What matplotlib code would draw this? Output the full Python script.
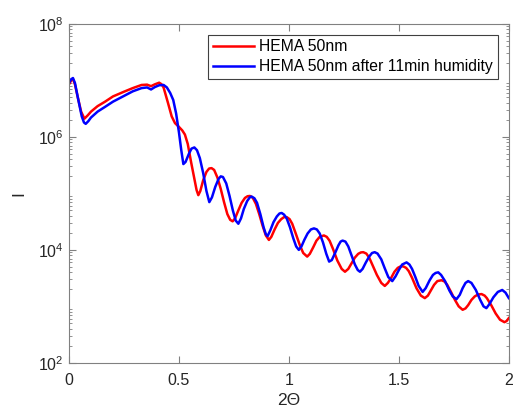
import matplotlib
matplotlib.use("Agg")
import matplotlib.pyplot as plt
from matplotlib.ticker import LogLocator, FixedLocator, NullFormatter

plt.rcParams['font.family'] = ['Liberation Sans', 'DejaVu Sans']
plt.rcParams['mathtext.fontset'] = 'custom'
plt.rcParams['mathtext.rm'] = 'Liberation Sans'
plt.rcParams['mathtext.it'] = 'Liberation Sans'

# values (2theta, intensity)
x_dry = [0.0, 0.01, 0.018, 0.027, 0.04, 0.055, 0.07, 0.085, 0.1, 0.13, 0.164, 0.2,
         0.25, 0.29, 0.33, 0.355, 0.373, 0.39, 0.41, 0.42, 0.43, 0.45, 0.467, 0.482,
         0.5, 0.515, 0.527, 0.54, 0.555, 0.57, 0.58, 0.588, 0.597, 0.61, 0.625, 0.637,
         0.648, 0.66, 0.675, 0.69, 0.705, 0.72, 0.733, 0.744, 0.755, 0.77, 0.785, 0.80,
         0.812, 0.823, 0.836, 0.85, 0.865, 0.88, 0.895, 0.909, 0.92, 0.935, 0.95, 0.965,
         0.978, 0.99, 1.003, 1.015, 1.03, 1.05, 1.065, 1.083, 1.095, 1.11, 1.125, 1.14,
         1.159, 1.172, 1.185, 1.20, 1.22, 1.24, 1.255, 1.27, 1.285, 1.30, 1.315, 1.327,
         1.338, 1.352, 1.365, 1.38, 1.40, 1.42, 1.436, 1.45, 1.465, 1.48, 1.495, 1.508,
         1.52, 1.533, 1.545, 1.56, 1.58, 1.60, 1.618, 1.632, 1.645, 1.66, 1.675, 1.694,
         1.708, 1.72, 1.737, 1.755, 1.772, 1.79, 1.803, 1.815, 1.83, 1.845, 1.86, 1.876,
         1.89, 1.90, 1.92, 1.94, 1.96, 1.98, 1.99, 2.0]
i_dry = [8.5e6, 1.0e7, 1.05e7, 8.5e6, 5e6, 2.8e6, 2.1e6, 2.4e6, 2.8e6, 3.5e6, 4.2e6, 5.2e6,
         6.3e6, 7.3e6, 8.3e6, 8.4e6, 7.9e6, 8.5e6, 9.1e6, 8.6e6, 7.5e6, 4e6, 2.3e6, 1.75e6,
         1.5e6, 1.3e6, 1.1e6, 7.5e5, 3.6e5, 1.8e5, 1.15e5, 9.3e4, 1.1e5, 1.7e5, 2.4e5, 2.75e5,
         2.8e5, 2.6e5, 1.9e5, 1.2e5, 7e4, 4.3e4, 3.4e4, 3.2e4, 3.6e4, 5e4, 6.8e4, 8.3e4,
         8.9e4, 9e4, 8.3e4, 6.5e4, 4.3e4, 2.7e4, 1.8e4, 1.5e4, 1.7e4, 2.3e4, 3e4, 3.5e4,
         3.8e4, 3.8e4, 3.5e4, 2.9e4, 2e4, 1.2e4, 8.8e3, 7.6e3, 8.5e3, 1.1e4, 1.45e4, 1.7e4,
         1.8e4, 1.7e4, 1.45e4, 1.05e4, 6.5e3, 4.6e3, 4.1e3, 4.6e3, 5.8e3, 7.3e3, 8.5e3, 9e3,
         9.1e3, 8.6e3, 7.3e3, 5.4e3, 3.6e3, 2.6e3, 2.3e3, 2.6e3, 3.2e3, 4.1e3, 4.8e3, 5.1e3,
         5.1e3, 4.8e3, 4.2e3, 3.2e3, 2.1e3, 1.55e3, 1.4e3, 1.55e3, 1.9e3, 2.4e3, 2.8e3, 2.9e3,
         2.75e3, 2.4e3, 1.8e3, 1.3e3, 1e3, 870, 920, 1.05e3, 1.3e3, 1.5e3, 1.62e3, 1.65e3,
         1.55e3, 1.4e3, 1.05e3, 750, 580, 525, 550, 620]

x_wet = [0.0, 0.01, 0.018, 0.027, 0.04, 0.058, 0.068, 0.076, 0.088, 0.1, 0.13, 0.164,
         0.2, 0.25, 0.29, 0.33, 0.355, 0.373, 0.39, 0.41, 0.43, 0.445, 0.46, 0.474,
         0.487, 0.50, 0.51, 0.52, 0.53, 0.545, 0.557, 0.57, 0.582, 0.595, 0.61, 0.625,
         0.638, 0.65, 0.665, 0.68, 0.69, 0.70, 0.715, 0.73, 0.745, 0.758, 0.77, 0.782,
         0.795, 0.81, 0.822, 0.83, 0.843, 0.855, 0.87, 0.885, 0.895, 0.903, 0.915, 0.93,
         0.945, 0.957, 0.967, 0.978, 0.99, 1.005, 1.02, 1.033, 1.045, 1.057, 1.07, 1.085,
         1.1, 1.114, 1.127, 1.14, 1.155, 1.17, 1.183, 1.195, 1.21, 1.225, 1.235, 1.244,
         1.257, 1.27, 1.285, 1.30, 1.313, 1.323, 1.335, 1.35, 1.365, 1.378, 1.39, 1.403,
         1.42, 1.435, 1.452, 1.47, 1.485, 1.50, 1.515, 1.535, 1.548, 1.56, 1.575, 1.59,
         1.608, 1.622, 1.64, 1.655, 1.667, 1.679, 1.692, 1.71, 1.73, 1.745, 1.762, 1.777,
         1.79, 1.803, 1.815, 1.83, 1.85, 1.87, 1.885, 1.898, 1.912, 1.93, 1.95, 1.97,
         1.985, 2.0]
i_wet = [9e6, 1.05e7, 1.1e7, 9e6, 5e6, 2.3e6, 1.8e6, 1.7e6, 1.9e6, 2.2e6, 2.8e6, 3.4e6,
         4.2e6, 5.3e6, 6.4e6, 7.3e6, 7.5e6, 6.9e6, 7.6e6, 8.2e6, 8.3e6, 7.5e6, 6e6, 4.5e6,
         2.6e6, 1.2e6, 6e5, 3.3e5, 3.6e5, 5e5, 6.2e5, 6.5e5, 5.8e5, 4.2e5, 2.3e5, 1.1e5,
         7e4, 8.5e4, 1.3e5, 1.8e5, 2e5, 1.95e5, 1.5e5, 9e4, 5e4, 3.3e4, 2.9e4, 3.6e4,
         5.3e4, 7.3e4, 8.5e4, 8.8e4, 8.2e4, 6.8e4, 4.3e4, 2.5e4, 1.9e4, 1.75e4, 2.2e4, 3.1e4,
         3.9e4, 4.4e4, 4.5e4, 4.2e4, 3.6e4, 2.5e4, 1.6e4, 1.15e4, 1e4, 1.15e4, 1.5e4, 1.95e4,
         2.3e4, 2.4e4, 2.3e4, 1.95e4, 1.35e4, 8.5e3, 6.2e3, 6.6e3, 8.8e3, 1.2e4, 1.4e4, 1.46e4,
         1.4e4, 1.15e4, 8e3, 5.5e3, 4.4e3, 4.1e3, 4.6e3, 6e3, 7.6e3, 8.8e3, 9.1e3, 8.6e3,
         6.8e3, 4.8e3, 3.3e3, 2.8e3, 3.4e3, 4.4e3, 5.5e3, 6e3, 5.5e3, 4.6e3, 3.3e3, 2.3e3,
         1.8e3, 2.1e3, 2.9e3, 3.6e3, 3.9e3, 4e3, 3.6e3, 2.8e3, 1.9e3, 1.5e3, 1.34e3, 1.6e3,
         2.1e3, 2.6e3, 2.8e3, 2.6e3, 1.95e3, 1.3e3, 1e3, 930, 1.1e3, 1.45e3, 1.8e3, 1.95e3,
         1.75e3, 1.4e3]

labels = ['HEMA 50nm', 'HEMA 50nm after 11min humidity']
x_ticks = [0, 0.5, 1, 1.5, 2]

fig = plt.figure(figsize=(5.15, 4.19), dpi=100)
ax = fig.add_axes([0.134, 0.134, 0.854, 0.809])

ax.semilogy(x_dry, i_dry, color='#ff0000', lw=1.8, label=labels[0])
ax.semilogy(x_wet, i_wet, color='#0000ff', lw=1.8, label=labels[1])

ax.set_xlim(0, 2)
ax.set_ylim(1e2, 1e8)
ax.xaxis.set_major_locator(FixedLocator(x_ticks))
ax.set_xticklabels(['0', '0.5', '1', '1.5', '2'])
ax.yaxis.set_major_locator(FixedLocator([1e2, 1e4, 1e6, 1e8]))
ax.set_yticklabels([r'$10^2$', r'$10^4$', r'$10^6$', r'$10^8$'])
ax.yaxis.set_minor_locator(LogLocator(base=10, subs=range(2, 10), numticks=20))
ax.yaxis.set_minor_formatter(NullFormatter())

gray = '#262626'
for s in ax.spines.values():
    s.set_color('#808080')
    s.set_linewidth(0.8)
ax.tick_params(which='both', direction='in', top=True, right=True, colors='#808080',
               labelcolor=gray, labelsize=11.5)
ax.tick_params(which='major', length=5)
ax.tick_params(which='minor', length=2.5)
ax.tick_params(axis='x', pad=7)
ax.tick_params(axis='y', pad=4)

ax.set_xlabel('2Θ', fontsize=12.5, color=gray, labelpad=4)
ax.set_ylabel('I', fontsize=12.5, color=gray, labelpad=8)

leg = ax.legend(loc='upper right', bbox_to_anchor=(0.975, 0.968), fontsize=11.3,
                fancybox=False, framealpha=1, edgecolor='#404040',
                handlelength=2.6, borderpad=0.3, labelspacing=0.3, handletextpad=0.35,
                borderaxespad=0.0)
leg.get_frame().set_linewidth(0.8)
for t in leg.get_texts():
    t.set_color('black')

fig.savefig('out.png', dpi=100)
